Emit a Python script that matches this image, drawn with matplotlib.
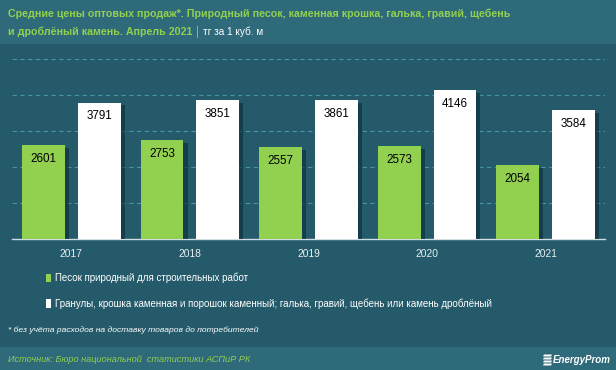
import matplotlib
matplotlib.use("Agg")
import matplotlib.pyplot as plt
import matplotlib.patheffects as pe
from matplotlib.patches import Rectangle, Polygon
import numpy as np

years = ["2017", "2018", "2019", "2020", "2021"]
sand = [2601, 2753, 2557, 2573, 2054]
gravel = [3791, 3851, 3861, 4146, 3584]
sand_label = "Песок природный для строительных работ"
gravel_label = "Гранулы, крошка каменная и порошок каменный; галька, гравий, щебень или камень дроблёный"

BG = "#245a6a"
BAND = "#2e6a7a"
GREEN = "#92d050"
FONT = ["Liberation Sans", "DejaVu Sans"]
plt.rcParams["font.family"] = FONT

W, H = 616, 370
fig = plt.figure(figsize=(W / 100, H / 100), dpi=100, facecolor=BG)

# header and footer bands
fig.add_artist(Rectangle((0, 1 - 44 / H), 1, 44 / H, transform=fig.transFigure,
                         facecolor=BAND, edgecolor="none", zorder=0))
fig.add_artist(Rectangle((0, 0), 1, 23 / H, transform=fig.transFigure,
                         facecolor=BAND, edgecolor="none", zorder=0))

ax = fig.add_axes([12 / W, 1 - 239 / H, (605 - 12) / W, (239 - 59) / H])
ax.set_facecolor("none")
x = np.arange(len(years))
w = 0.36
shadow = [pe.SimplePatchShadow(offset=(3, -2), shadow_rgbFace="#0e3340", alpha=0.7), pe.Normal()]
b1 = ax.bar(x - 0.235, sand, w, color=GREEN, label=sand_label, zorder=3, path_effects=shadow)
b2 = ax.bar(x + 0.235, gravel, w, color="white", label=gravel_label, zorder=3, path_effects=shadow)

for bars in (b1, b2):
    for r in bars:
        ax.annotate(f"{int(r.get_height())}", (r.get_x() + r.get_width() / 2, r.get_height()),
                    xytext=(0, -10), textcoords="offset points", ha="center", va="center",
                    fontsize=8.4, color="black", zorder=4)

ax.set_xlim(-0.5, 4.5)
ax.set_ylim(0, 5000)
ax.set_yticks([1000, 2000, 3000, 4000, 5000])
ax.yaxis.grid(True, color="#4a94aa", linestyle=(0, (4, 3)), linewidth=0.8, zorder=0)
ax.tick_params(axis="y", left=False, labelleft=False)
ax.set_xticks(x)
ax.set_xticklabels(years, color="#e8f0f2", fontsize=7.4)
ax.tick_params(axis="x", length=0, pad=7)
for s in ["top", "right", "left"]:
    ax.spines[s].set_visible(False)
ax.spines["bottom"].set_color("#d0dde2")
ax.spines["bottom"].set_linewidth(1)

fig.legend(handles=[b1, b2], loc="upper left", bbox_to_anchor=(46 / W, 1 - 273 / H),
           frameon=False, labelcolor="white", fontsize=7.0, handlelength=0.55, handleheight=1.0,
           handletextpad=0.35, labelspacing=1.55, borderpad=0, borderaxespad=0)
for h in fig.legends[0].legend_handles:
    h.set_path_effects([])

# title
fig.canvas.draw()
r = fig.canvas.get_renderer()
fig.text(8 / W, 1 - 14 / H, "Средние цены оптовых продаж*. Природный песок, каменная крошка, галька, гравий, щебень",
         color=GREEN, fontsize=7.7, fontweight="bold", va="center")
t2 = fig.text(8 / W, 1 - 32 / H, "и дроблёный камень. Апрель 2021", color=GREEN, fontsize=7.7,
              fontweight="bold", va="center")
e = t2.get_window_extent(r)
t3 = fig.text((e.x1 + 4) / W, 1 - 32 / H, "|", color="#5fb8e0", fontsize=8.5, va="center")
e = t3.get_window_extent(r)
fig.text((e.x1 + 4) / W, 1 - 32 / H, "тг за 1 куб. м", color="white", fontsize=7.2, va="center")

fig.text(8 / W, 1 - 330 / H, "* без учёта расходов на доставку товаров до потребителей",
         color="white", fontsize=6.1, style="italic", va="center")
fig.text(8 / W, 1 - 359 / H, "Источник: Бюро национальной  статистики АСПиР РК",
         color=GREEN, fontsize=6.6, style="italic", va="center")

# logo
fig.text(553 / W, 1 - 360 / H, "EnergyProm", color="white", fontsize=7, style="italic",
         fontweight="bold", va="center", ha="left")
for i in range(4):
    y0 = 1 - (354.5 + i * 3) / H
    fig.add_artist(Polygon([(552 / W, y0), (544 / W, y0), (543 / W, y0 - 2 / H), (551 / W, y0 - 2 / H)],
                           closed=True, transform=fig.transFigure, facecolor="white", edgecolor="none"))

fig.savefig("out.png", dpi=100, facecolor=BG)
